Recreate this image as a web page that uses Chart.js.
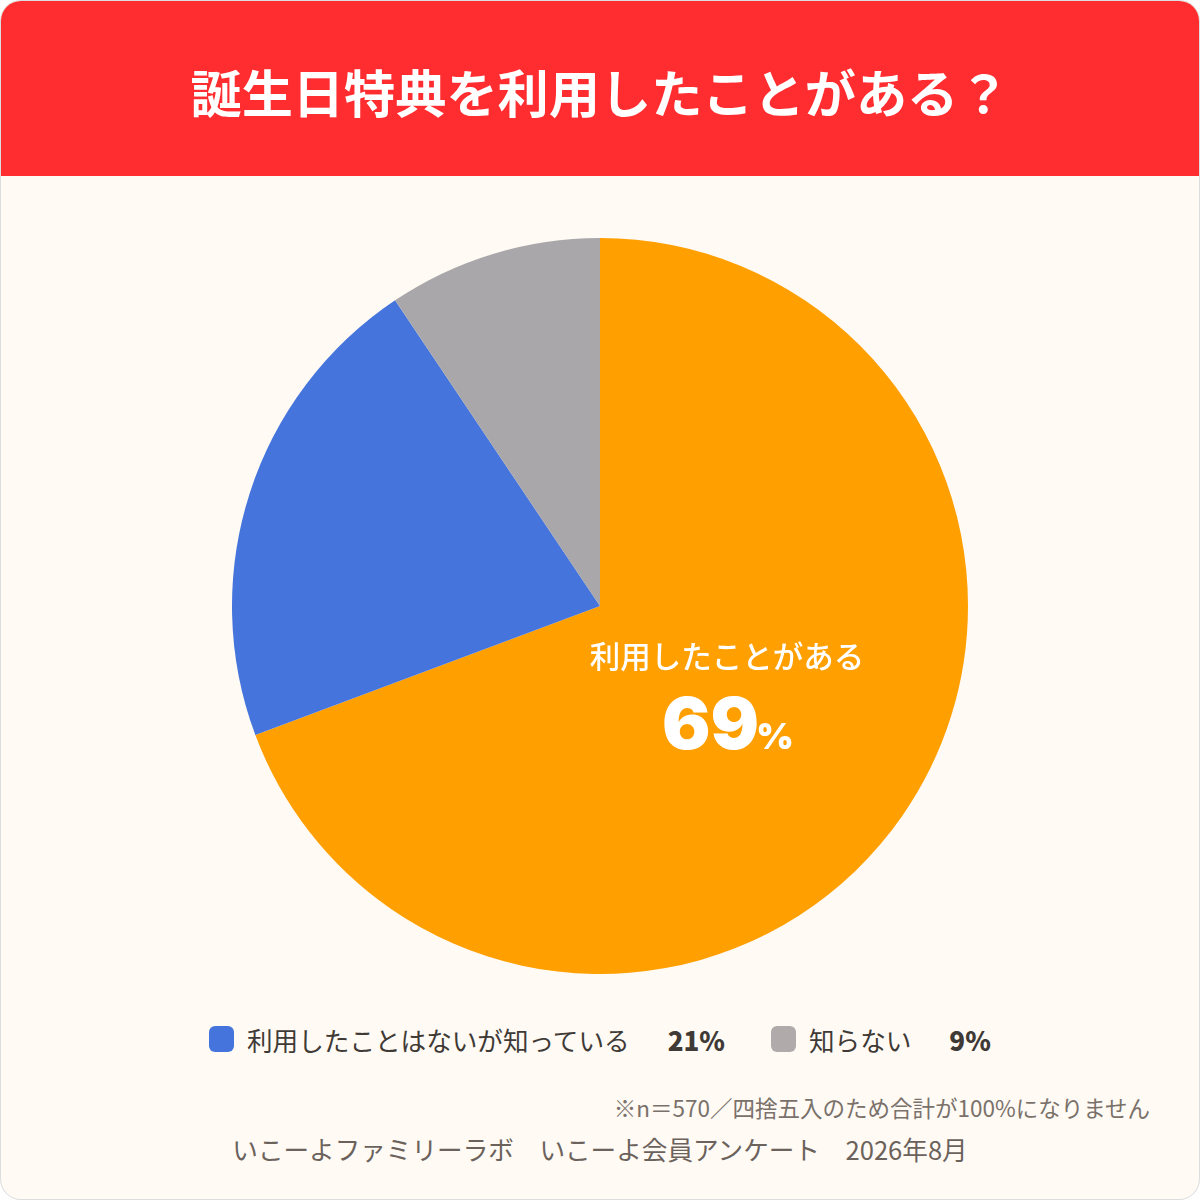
<!DOCTYPE html>
<html lang="ja">
<head>
<meta charset="utf-8">
<script src="https://cdn.jsdelivr.net/npm/chart.js@4"></script>
<style>
html, body { margin: 0; padding: 0; background: #fff; }
body { width: 1200px; height: 1200px; position: relative; overflow: hidden; font-family: "Noto Sans CJK JP", "Noto Sans", sans-serif; }
#card { position: absolute; left: 1px; top: 1px; width: 1198px; height: 1198px; box-sizing: border-box; border-radius: 20px; background: #fffaf4; overflow: hidden; box-shadow: 0 0 0 1px #ddd; }
#head { position: absolute; left: 0; top: 0; width: 100%; height: 175px; background: #ff2c30; color: #fff; text-align: center; font-weight: 700; font-size: 51.2px; line-height: 180px; white-space: nowrap; }
#wrap { position: absolute; left: 220px; top: 226px; width: 760px; height: 760px; }
#legend { position: absolute; left: 209px; top: 1019px; height: 40px; display: flex; align-items: center; font-size: 25.6px; color: #3f3a36; white-space: nowrap; }
#legend i { display: block; width: 25px; height: 26px; border-radius: 6px; margin-right: 13px; margin-top: 0; }
#legend b { font-weight: 900; font-size: 26px; margin-left: 38px; margin-right: 46px; }
#note { position: absolute; right: 50px; top: 1091px; font-size: 22.5px; color: #7a716b; line-height: 32px; white-space: nowrap; }
#src { position: absolute; left: 0; width: 1200px; top: 1131px; text-align: center; font-size: 25.6px; color: #6b625c; line-height: 36px; white-space: pre; }
</style>
</head>
<body>
<div id="card">
  <div id="head"></div>
</div>
<div id="wrap"><canvas id="pie" width="760" height="760"></canvas></div>
<div id="legend"></div>
<div id="note"></div>
<div id="src"></div>
<script>
var titleText = "誕生日特典を利用したことがある？";
var labels = ["利用したことがある", "利用したことはないが知っている", "知らない"];
var values = [69.3, 21.3, 9.4];
var shown = ["69", "21", "9"];
var colors = ["#ff9f00", "#4575dc", "#a9a7aa"];
var noteText = "※n＝570／四捨五入のため合計が100%になりません";
var srcText = "いこーよファミリーラボ　いこーよ会員アンケート　2026年8月";

document.getElementById("head").textContent = titleText;
document.getElementById("note").textContent = noteText;
document.getElementById("src").textContent = srcText;

// legend skips the first slice, that one is labelled inside the pie
var legendHtml = "";
for (var i = 1; i < labels.length; i++) {
    var swatch = i == 2 ? "#b0aaaa" : colors[i];
    legendHtml += '<i style="background:' + swatch + '"></i><span>' + labels[i] + '</span><b>' + shown[i] + '%</b>';
}
document.getElementById("legend").innerHTML = legendHtml;

var insideLabel = {
    id: "insideLabel",
    afterDatasetsDraw: function(chart) {
        var arc = chart.getDatasetMeta(0).data[0];
        var mid = (arc.startAngle + arc.endAngle) / 2;
        var x = arc.x + Math.cos(mid) * arc.outerRadius * 0.42;
        var y = arc.y + Math.sin(mid) * arc.outerRadius * 0.42;
        var ctx = chart.ctx;
        var jp = '"Noto Sans CJK JP", "Noto Sans", sans-serif';
        ctx.save();
        ctx.fillStyle = "#fff";
        ctx.textBaseline = "alphabetic";
        ctx.textAlign = "center";
        ctx.font = "500 30.5px " + jp;
        ctx.fillText(labels[0], x, y - 26);
        ctx.textAlign = "left";
        ctx.font = "900 72px Inter, " + jp;
        var w = ctx.measureText(shown[0]).width;
        ctx.fillText(shown[0], x - 65, y + 55);
        ctx.font = "900 36px Inter, " + jp;
        ctx.fillText("%", x - 68 + w, y + 55);
        ctx.restore();
    }
};

new Chart(document.getElementById("pie").getContext("2d"), {
    type: "pie",
    data: {
        labels: labels,
        datasets: [{ data: values, backgroundColor: colors, borderWidth: 0 }]
    },
    options: {
        responsive: false,
        animation: false,
        devicePixelRatio: 1,
        layout: { padding: 12 },
        plugins: { legend: { display: false }, tooltip: { enabled: false } }
    },
    plugins: [insideLabel]
});
</script>
</body>
</html>
